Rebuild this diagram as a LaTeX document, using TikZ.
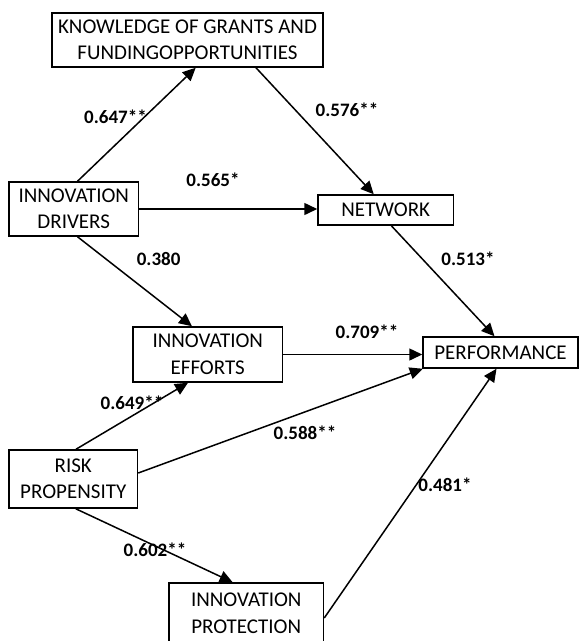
\documentclass[tikz,border=0pt]{standalone}
\usepackage{fontspec}
\setmainfont{Carlito}
\usetikzlibrary{arrows.meta}
\tikzset{
    factor/.style={
        draw=black,
        line width=1.5pt,
        inner sep=0pt,
        align=center,
        font=\fontsize{21}{26.5}\selectfont
    },
    weight/.style={
        inner sep=0pt,
        font=\bfseries\fontsize{19}{22}\selectfont
    },
    link/.style={
        line width=1.5pt,
        -{Triangle[length=13pt, width=12pt]}
    }
}

\begin{document}
\begin{tikzpicture}[x=1pt, y=-1pt]
            \useasboundingbox [fill=white] (0,0) rectangle (579,641);

            % Boxes
            \node (know) [factor, minimum width=271pt, minimum height=54pt] at (187.5,40)
                {KNOWLEDGE OF GRANTS AND\\FUNDINGOPPORTUNITIES};
            \node (drv) [factor, minimum width=129.5pt, minimum height=54pt] at (73.75,209)
                {INNOVATION\\DRIVERS};
            \node (net) [factor, minimum width=135.5pt, minimum height=30pt] at (385.75,210)
                {NETWORK};
            \node (eff) [factor, minimum width=149.5pt, minimum height=55pt] at (207.75,354.5)
                {INNOVATION\\EFFORTS};
            \node (perf) [factor, minimum width=155pt, minimum height=31pt] at (500.5,352.5)
                {PERFORMANCE};
            \node (risk) [factor, minimum width=128.5pt, minimum height=58pt] at (73.25,479)
                {RISK\\PROPENSITY};
            \node (prot) [factor, minimum width=154.5pt, minimum height=60pt] at (246.25,613)
                {INNOVATION\\PROTECTION};

            % Paths
            \draw [link] ([xshift=3.75pt]drv.north) -- ([xshift=8.2pt]know.south);
            \draw [link] ([xshift=68.5pt]know.south) -- ([xshift=-12pt]net.north);
            \draw [link] (drv.east) -- (drv.east -| net.west);
            \draw [link] ([xshift=3.75pt]drv.south) -- ([xshift=-15.75pt]eff.north);
            \draw [link] ([xshift=5.6pt]net.south) -- ([xshift=-6pt]perf.north);
            \draw [link] (eff.east) -- (eff.east -| perf.west);
            \draw [link] ([xshift=2.75pt]risk.north) -- ([xshift=-19.75pt]eff.south);
            \draw [link] ([yshift=6pt]risk.east) -- ([xshift=0.5pt]perf.south west);
            \draw [link] ([yshift=-5pt]prot.east) -- ([xshift=-4pt]perf.south);
            \draw [link] ([xshift=2.5pt]risk.south) -- ([xshift=-13.6pt]prot.north);

            % Path weights
            \node (w1) [weight] at (115.5,116.7) {0.647**};
            \node (w2) [weight] at (347,110) {0.576**};
            \node (w3) [weight] at (213,180) {0.565*};
            \node (w4) [weight] at (158.6,259) {0.380};
            \node (w5) [weight] at (468,259) {0.513*};
            \node (w6) [weight] at (367,331.7) {0.709**};
            \node (w7) [weight] at (132,402.7) {0.649**};
            \node (w8) [weight] at (305,433) {0.588**};
            \node (w9) [weight] at (445,485) {0.481*};
            \node (w10) [weight] at (155,550) {0.602**};
        \end{tikzpicture}
\end{document}
